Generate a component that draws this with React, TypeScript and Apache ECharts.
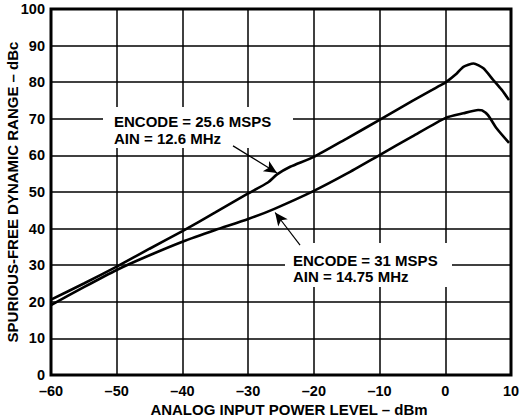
import React, { useEffect, useRef } from "react";
import * as echarts from "echarts";

// x values (dBm) and SFDR (dBc)
const xUpper = [-60, -55, -50, -45, -40, -35, -30, -27, -25.6, -23.6, -20, -15, -10, -5, -2, -1, 0, 1.75, 2.75, 4.3, 5.8, 7.3, 8.6, 9.7];
const yUpper = [20.6, 25, 29.6, 34.5, 39.3, 44.4, 49.6, 52.6, 54.8, 56.9, 59.6, 64.6, 69.7, 74.9, 77.9, 78.9, 79.9, 82.4, 84.2, 85.1, 83.8, 80.6, 77.9, 75.1];

const xLower = [-60, -55, -50, -45, -40, -35, -30, -26, -20, -15, -10, -5, 0, 2.75, 5, 5.6, 6.5, 7.8, 9.7];
const yLower = [19.1, 24, 28.7, 32.7, 36.4, 39.6, 42.6, 45.4, 50.3, 55, 60.1, 65.2, 70.2, 71.5, 72.4, 72.3, 71, 67.4, 63.4];

const xTicks = [-60, -50, -40, -30, -20, -10, 0, 10];
const yTicks = [0, 10, 20, 30, 40, 50, 60, 70, 80, 90, 100];

// annotation arrows: [from, to] in data coordinates
const arrowUpper = [[-32.3, 62.6], [-25.6, 55.2]];
const arrowLower = [[-22.1, 35.5], [-25.9, 44.4]];

const labelUpper = ["ENCODE = 25.6 MSPS", "AIN = 12.6 MHz"];
const labelLower = ["ENCODE = 31 MSPS", "AIN = 14.75 MHz"];

const FONT = '"Liberation Sans", Arial, Helvetica, sans-serif';

export default function App() {
  const ref = useRef<HTMLDivElement>(null);
  useEffect(() => {
    if (!ref.current) return;
    const chart = echarts.init(ref.current, null, { renderer: "svg" });
    const fmt = (v: number) => String(v).replace("-", "\u2013");
    const txt = (text: string, x: number, y: number) => ({
      type: "text",
      z: 6,
      style: { text, x, y, fill: "#000", font: `bold 15px ${FONT}`, verticalAlign: "middle", align: "left" },
    });
    const arrowLine = (a: number[][]) => ({
      silent: true,
      symbol: ["none", "arrow"],
      symbolSize: [9, 13],
      label: { show: false },
      lineStyle: { color: "#000", width: 1.2, type: "solid" },
      data: [[{ coord: a[0] }, { coord: a[1] }]],
    });
    chart.setOption({
      animation: false,
      backgroundColor: "#fff",
      grid: {
        left: 51, right: 9, top: 9, bottom: 43,
        containLabel: false, outerBoundsMode: "none",
        show: true, borderColor: "#000", borderWidth: 3, backgroundColor: "transparent", z: 4,
      },
      xAxis: {
        type: "value",
        min: xTicks[0],
        max: xTicks[xTicks.length - 1],
        interval: 10,
        name: "ANALOG INPUT POWER LEVEL \u2013 dBm",
        nameLocation: "middle",
        nameGap: 27,
        nameMoveOverlap: false,
        nameTextStyle: { fontFamily: FONT, fontWeight: "bold", fontSize: 15, lineHeight: 15, color: "#000", padding: [0, 0, 0, 16] },
        axisLine: { show: false },
        axisTick: { show: false },
        axisLabel: { formatter: fmt, fontFamily: FONT, fontWeight: "bold", fontSize: 14.5, color: "#000", margin: 8 },
        splitLine: { show: true, lineStyle: { color: "#000", width: 1.5 } },
      },
      yAxis: {
        type: "value",
        min: yTicks[0],
        max: yTicks[yTicks.length - 1],
        interval: 10,
        name: "SPURIOUS-FREE DYNAMIC RANGE \u2013 dBc",
        nameLocation: "middle",
        nameGap: 31,
        nameRotate: 90,
        nameMoveOverlap: false,
        nameTextStyle: { fontFamily: FONT, fontWeight: "bold", fontSize: 15, lineHeight: 15, color: "#000" },
        axisLine: { show: false },
        axisTick: { show: false },
        axisLabel: { fontFamily: FONT, fontWeight: "bold", fontSize: 14.5, color: "#000", margin: 6 },
        splitLine: { show: true, lineStyle: { color: "#000", width: 1.5 } },
      },
      graphic: [
        { type: "rect", z: 5, shape: { x: 103, y: 107, width: 190, height: 41 }, style: { fill: "#fff" } },
        { type: "rect", z: 5, shape: { x: 285, y: 243, width: 167, height: 44 }, style: { fill: "#fff" } },
        txt(labelUpper[0], 114, 121.5),
        txt(labelUpper[1], 114, 138.5),
        txt(labelLower[0], 293, 260.5),
        txt(labelLower[1], 293, 276),
      ],
      series: [
        {
          type: "line",
          data: xUpper.map((x, i) => [x, yUpper[i]]),
          smooth: 0.2,
          showSymbol: false,
          z: 7,
          lineStyle: { color: "#000", width: 2.6 },
          markLine: arrowLine(arrowUpper),
        },
        {
          type: "line",
          data: xLower.map((x, i) => [x, yLower[i]]),
          smooth: 0.2,
          showSymbol: false,
          z: 7,
          lineStyle: { color: "#000", width: 2.6 },
          markLine: arrowLine(arrowLower),
        },
      ],
    });
    return () => chart.dispose();
  }, []);
  return <div ref={ref} style={{ width: 520, height: 418, position: "absolute", left: 0, top: 0 }} />;
}
